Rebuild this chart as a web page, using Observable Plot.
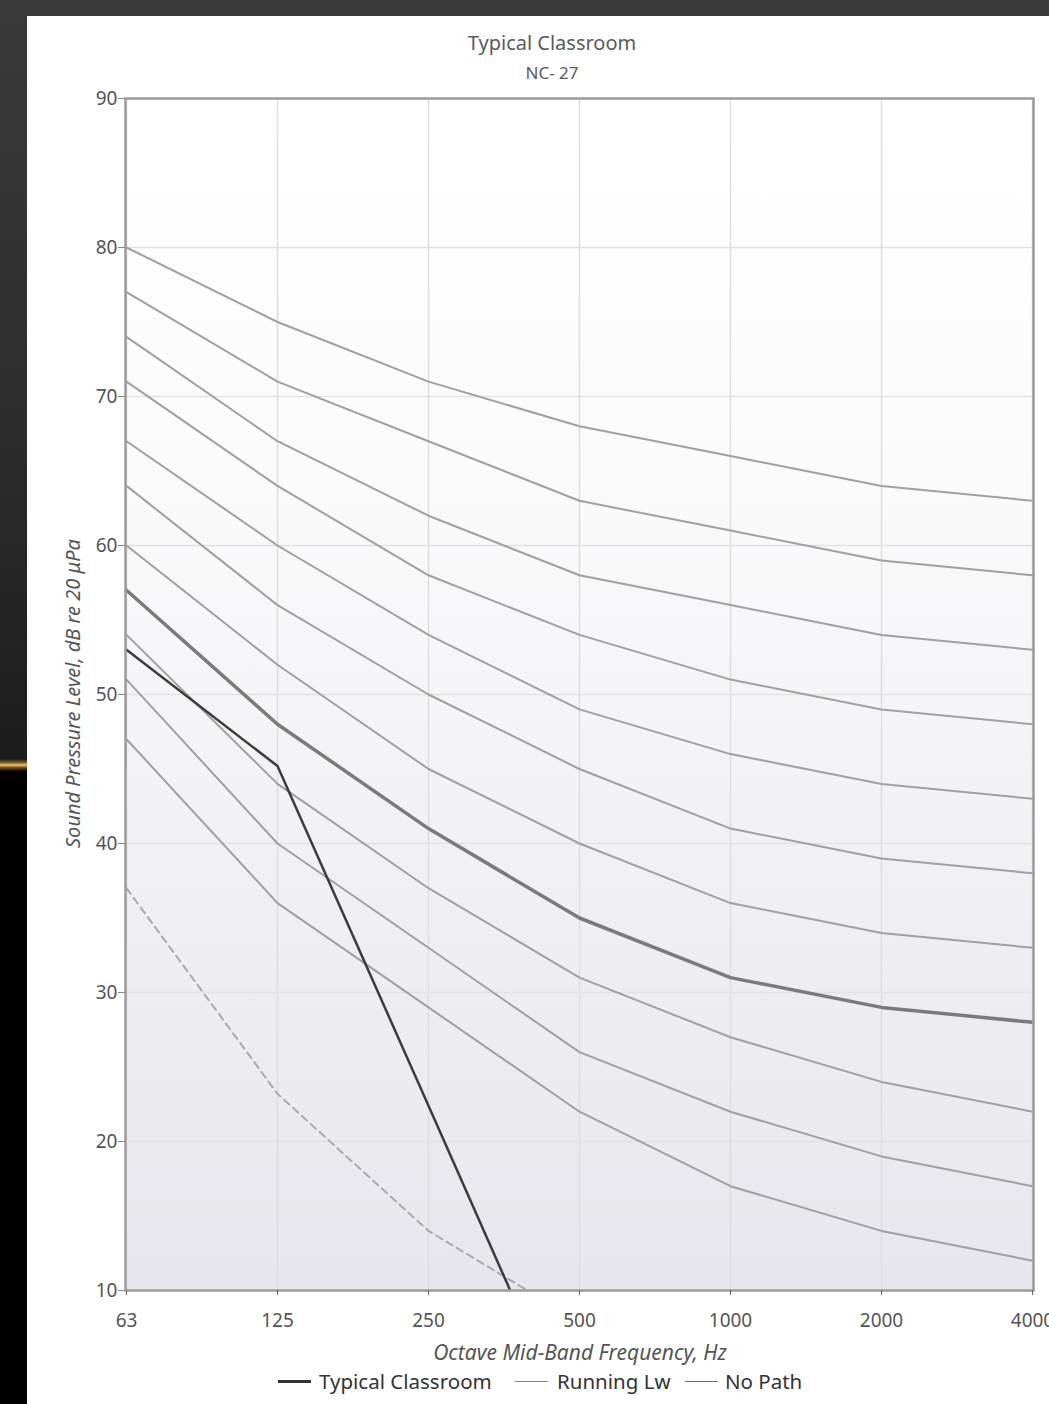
<!DOCTYPE html>
<html>
<head>
<meta charset="utf-8">
<script src="https://cdn.jsdelivr.net/npm/d3@7"></script>
<script src="https://cdn.jsdelivr.net/npm/@observablehq/plot@0.6"></script>
<style>
html, body { margin: 0; padding: 0; width: 1049px; height: 1404px; overflow: hidden; }
body {
  position: relative;
  font-family: "Noto Sans", sans-serif;
  background: linear-gradient(to bottom, #3a3a3a 0%, #2a2a2a 35%, #1c1c1c 54%, #000 55%, #000 100%);
}
#orange {
  position: absolute; left: 0; top: 759px; width: 27px; height: 12px;
  background: linear-gradient(to bottom, rgba(180,120,30,0) 0%, rgba(200,140,40,0.6) 30%, #f2c46a 50%, rgba(200,140,40,0.6) 70%, rgba(180,120,30,0) 100%);
}
#panel { position: absolute; left: 27px; top: 16px; width: 1060px; height: 1400px; background: #fff; }
#chart { position: absolute; left: 0; top: 0; }
.t { position: absolute; white-space: nowrap; color: #555; }
#title { left: 0; width: 1050px; text-align: center; top: 13px; font-size: 20px; color: #5a5a5a; }
#subtitle { left: 0; width: 1050px; text-align: center; top: 45px; font-size: 17px; color: #5a5a5a; }
#ylabel { left: 45px; top: 664px; width: 0; font-size: 20px; font-style: italic; }
#ylabel span { display: block; transform: translate(-50%, 0) rotate(-90deg); transform-origin: 50% 50%; width: 420px; text-align: center; }
#xlabel { left: 0; width: 1106px; text-align: center; top: 1322px; font-size: 21px; font-style: italic; }
.lg { position: absolute; top: 1367px; font-size: 20.5px; color: #333; white-space: nowrap; }
.sw { position: absolute; width: 33px; }
</style>
</head>
<body>
<div id="orange"></div>
<div id="panel">
  <div id="chart"></div>
  <div class="t" id="title">Typical Classroom</div>
  <div class="t" id="subtitle">NC- 27</div>
  <div class="t" id="ylabel"><span>Sound Pressure Level, dB re 20 μPa</span></div>
  <div class="t" id="xlabel">Octave Mid-Band Frequency, Hz</div>
</div>
<span class="sw" style="left:278px; top:1380px; border-top:3px solid #333"></span>
<span class="lg" style="left:319px">Typical Classroom</span>
<span class="sw" style="left:515px; top:1381px; border-top:1.5px solid #888"></span>
<span class="lg" style="left:557px">Running Lw</span>
<span class="sw" style="left:685px; top:1381px; border-top:1.5px solid #5d7080"></span>
<span class="lg" style="left:725px">No Path</span>
<script>
// ---- data ----
const freqs = ["63", "125", "250", "500", "1000", "2000", "4000"];
const yTicks = [10, 20, 30, 40, 50, 60, 70, 80, 90];

const nc15 = [47, 36, 29, 22, 17, 14, 12];
const nc20 = [51, 40, 33, 26, 22, 19, 17];
const nc25 = [54, 44, 37, 31, 27, 24, 22];
const nc30 = [57, 48, 41, 35, 31, 29, 28];
const nc35 = [60, 52, 45, 40, 36, 34, 33];
const nc40 = [64, 56, 50, 45, 41, 39, 38];
const nc45 = [67, 60, 54, 49, 46, 44, 43];
const nc50 = [71, 64, 58, 54, 51, 49, 48];
const nc55 = [74, 67, 62, 58, 56, 54, 53];
const nc60 = [77, 71, 67, 63, 61, 59, 58];
const nc65 = [80, 75, 71, 68, 66, 64, 63];

const thinCurves = [nc15, nc20, nc25, nc35, nc40, nc45, nc50, nc55, nc60, nc65];
const ratingCurve = nc30;

const classroom = [53, 45.2, 22.4, -0.5];      // 63..500 Hz
const threshold = [37.0, 23.2, 14.0, 7.9];     // dashed, 63..500 Hz

const toRows = (arr) => arr.map((v, i) => ({ f: freqs[i], v }));

const chart = Plot.plot({
  width: 1040,
  height: 1330,
  marginLeft: 98,
  marginRight: 34,
  marginTop: 82,
  marginBottom: 56,
  x: { type: "point", domain: freqs, padding: 0, label: null },
  y: { domain: [10, 90], label: null },
  style: { fontFamily: "Noto Sans, sans-serif", fontSize: "19px", color: "#555", background: "transparent", overflow: "visible" },
  marks: [
    Plot.frame({ fill: "url(#plotbg)", stroke: "none" }),
    Plot.gridX({ stroke: "#dedede", strokeOpacity: 1, strokeWidth: 1.5 }),
    Plot.gridY(yTicks, { stroke: "#e2e2e2", strokeOpacity: 1, strokeWidth: 1.5 }),
    ...thinCurves.map(c => Plot.line(toRows(c), { x: "f", y: "v", stroke: "#a0a0a0", strokeWidth: 2, clip: true })),
    Plot.line(toRows(ratingCurve), { x: "f", y: "v", stroke: "#7a7a7a", strokeWidth: 3.5, clip: true }),
    Plot.line(toRows(threshold), { x: "f", y: "v", stroke: "#aaaaaa", strokeWidth: 2, strokeDasharray: "7,5", clip: true }),
    Plot.line(toRows(classroom), { x: "f", y: "v", stroke: "#3c3c3c", strokeWidth: 2.5, clip: true }),
    Plot.frame({ stroke: "#9c9c9c", strokeWidth: 2.5 }),
    Plot.axisX({ tickSize: 5, tickPadding: 18, stroke: "#666", fill: "#555", fontSize: 19 }),
    Plot.axisY(yTicks, { tickSize: 7, tickPadding: 1, stroke: "#888", fill: "#555", fontSize: 19 })
  ]
});

// gradient background for the plot area
const svg = d3.select(chart);
const defs = svg.insert("defs", ":first-child");
const g = defs.append("linearGradient").attr("id", "plotbg").attr("x1", 0).attr("y1", 0).attr("x2", 0).attr("y2", 1);
g.append("stop").attr("offset", "0%").attr("stop-color", "#ffffff");
g.append("stop").attr("offset", "30%").attr("stop-color", "#fbfbfc");
g.append("stop").attr("offset", "100%").attr("stop-color", "#e6e6ec");

document.getElementById("chart").appendChild(chart);
</script>
</body>
</html>
